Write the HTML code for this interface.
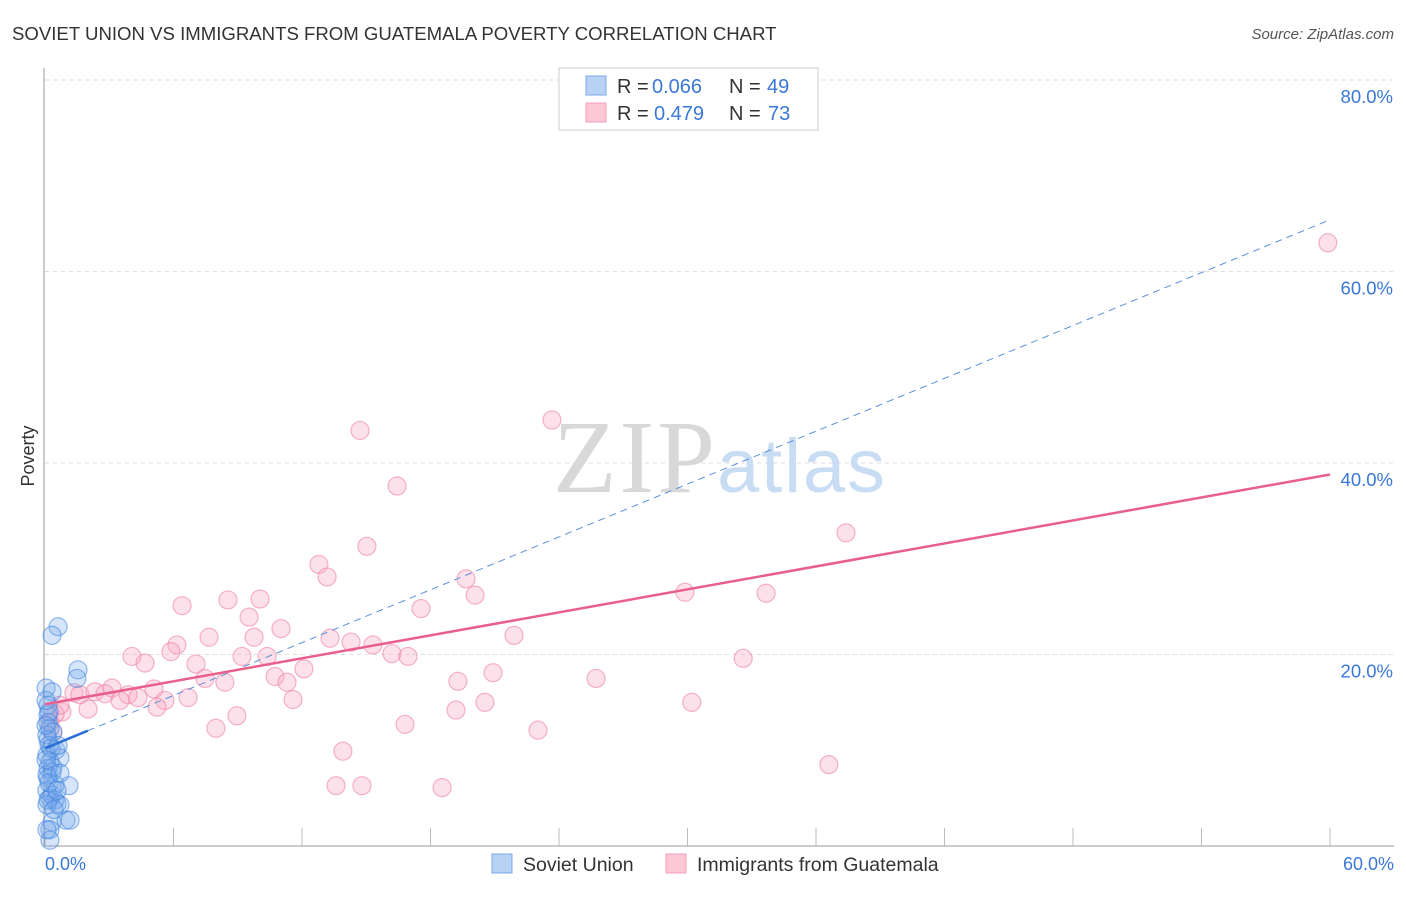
<!DOCTYPE html>
<html><head><meta charset="utf-8"><style>
body{margin:0;background:#fff;font-family:"Liberation Sans",sans-serif}
</style></head><body>
<svg width="1406" height="892" viewBox="0 0 1406 892" xmlns="http://www.w3.org/2000/svg">
<text x="12" y="40" font-size="18.6" fill="#333">SOVIET UNION VS IMMIGRANTS FROM GUATEMALA POVERTY CORRELATION CHART</text>
<text x="1394" y="39" font-size="15" fill="#555" font-style="italic" text-anchor="end">Source: ZipAtlas.com</text>
<g id="grid"></g>
<g><text x="553" y="492" font-family="Liberation Serif,serif" font-size="104" fill="#d8d8d8" textLength="162">ZIP</text><text x="717" y="492" font-size="76" fill="#c8dcf4" textLength="168">atlas</text></g>
<line x1="44" y1="68" x2="44" y2="846" stroke="#999"/>
<line x1="44" y1="846" x2="1394" y2="846" stroke="#999"/>
<g id="ticks"></g>
<g id="pts"></g>
<g id="trend"></g>
<text x="34" y="456" font-size="18" fill="#333" transform="rotate(-90 34 456)" text-anchor="middle">Poverty</text>
<text x="45" y="870" font-size="18" fill="#3a78d8">0.0%</text>
<text x="1394" y="870" font-size="18" fill="#3a78d8" text-anchor="end">60.0%</text>
<g>
<rect x="559" y="68" width="259" height="62" fill="#fff" stroke="#ccc"/>
<rect x="586" y="76" width="20" height="19" fill="#b8d2f4" stroke="#7aa8e8"/>
<rect x="586" y="103" width="20" height="19" fill="#fcc8d8" stroke="#f0a0b8"/>
<text x="617" y="93" font-size="20" fill="#333">R =</text>
<text x="652" y="93" font-size="20" fill="#3a78d8">0.066</text>
<text x="729" y="93" font-size="20" fill="#333">N =</text>
<text x="767" y="93" font-size="20" fill="#3a78d8">49</text>
<text x="617" y="120" font-size="20" fill="#333">R =</text>
<text x="654" y="120" font-size="20" fill="#3a78d8">0.479</text>
<text x="729" y="120" font-size="20" fill="#333">N =</text>
<text x="768" y="120" font-size="20" fill="#3a78d8">73</text>
</g>
<g>
<rect x="492" y="854" width="20" height="19" fill="#b8d2f4" stroke="#7aa8e8"/>
<text x="523" y="871" font-size="19.5" fill="#333">Soviet Union</text>
<rect x="666" y="854" width="20" height="19" fill="#fcc8d8" stroke="#f0a0b8"/>
<text x="697" y="871" font-size="19.5" fill="#333">Immigrants from Guatemala</text>
</g>
</svg>
<script>
const yTicks=[20,40,60,80];
const yTickLabels=["20.0%","40.0%","60.0%","80.0%"];
const xTicks=[0,6,12,18,24,30,36,42,48,54,60];
const pinkX=[59.9,23.67,14.71,16.44,37.4,15.03,12.79,13.17,19.66,20.08,29.88,33.67,6.4,8.54,10.04,9.53,17.56,11.02,7.66,13.31,9.76,14.29,15.31,21.9,6.16,5.88,4.06,4.67,9.2,10.37,16.2,16.95,32.6,7.05,12.09,20.92,10.74,7.47,8.4,11.3,19.28,25.73,5.09,3.13,1.35,1.63,2.33,2.8,3.88,4.34,3.5,5.6,6.68,11.58,20.54,30.2,5.23,2.01,0.79,0.47,8.96,19.19,16.81,7.98,23.02,0.23,0.37,13.91,36.6,13.59,14.8,18.54,0.7];
const pinkY=[63.0,44.5,43.4,37.6,32.7,31.3,29.4,28.1,27.9,26.2,26.5,26.4,25.1,25.7,25.8,23.9,24.8,22.7,21.8,21.7,21.8,21.3,21.0,22.0,21.0,20.3,19.8,19.1,19.8,19.8,20.1,19.8,19.6,19.0,18.5,18.1,17.7,17.5,17.1,17.1,17.2,17.5,16.4,16.5,16.0,15.8,16.1,15.9,15.8,15.5,15.2,15.2,15.5,15.3,15.0,15.0,14.5,14.3,14.0,13.8,13.6,14.2,12.7,12.3,12.1,12.9,11.9,9.9,8.5,6.3,6.3,6.1,14.7];
const blueX=[0.61,0.33,1.54,1.49,0.05,0.33,0.14,0.14,0.14,0.23,0.37,0.14,0.19,0.51,0.7,0.09,0.23,0.14,0.33,0.14,0.47,1.12,0.09,0.33,0.47,0.56,0.23,0.09,0.98,1.17,0.33,0.23,0.23,0.14,0.7,0.19,0.09,0.28,0.37,0.09,0.19,0.05,0.61,0.42,0.05,0.7,0.56,0.09,0.05];
const blueY=[22.9,22.0,18.4,17.5,16.5,16.1,14.7,13.7,12.9,12.3,11.9,11.1,10.5,10.0,9.2,9.5,8.8,8.1,7.7,7.1,6.4,6.3,5.8,5.3,4.8,4.4,5.0,4.3,2.7,2.7,2.5,1.7,0.6,4.8,4.3,14.0,11.6,10.2,8.2,7.4,6.6,12.6,10.5,3.8,9.0,7.6,5.8,1.7,15.2];
const pinkTrend=[14.8,38.8];
const blueTrend=[10.2,65.4];
const blueSolidEnd=2;
const NS="http://www.w3.org/2000/svg";
const X=v=>45+v*(1285/60);
const Y=v=>846-v*(766/80);
function mk(tag,attrs,parent){const e=document.createElementNS(NS,tag);for(const k in attrs)e.setAttribute(k,attrs[k]);parent.appendChild(e);return e;}
const grid=document.getElementById('grid');
yTicks.forEach((t,i)=>{
 const l=mk('line',{x1:45,x2:1394,y1:Y(t),y2:Y(t),stroke:'#ddd','stroke-dasharray':'4,4'},grid);
 
 
 const tx=mk('text',{x:1393,y:Y(t)+23,'font-size':18.5,fill:'#3a78d8','text-anchor':'end'},grid);
 tx.textContent=yTickLabels[i];
 
 
});
const ticks=document.getElementById('ticks');
xTicks.forEach(t=>{const l=mk('line',{x1:X(t),x2:X(t),y1:828,y2:846,stroke:'#bbb'},ticks);
 
 });
const pts=document.getElementById('pts');
pinkX.forEach((v,i)=>{const c=mk('circle',{cx:X(v),cy:Y(pinkY[i]),r:9,fill:'rgba(248,170,195,0.35)',stroke:'rgba(236,130,165,0.6)','stroke-width':1.2},pts);
 
 });
blueX.forEach((v,i)=>{const c=mk('circle',{cx:X(v),cy:Y(blueY[i]),r:9,fill:'rgba(120,170,235,0.3)',stroke:'rgba(60,130,220,0.55)','stroke-width':1.2},pts);
 
 });
const tr=document.getElementById('trend');
const bY=x=>blueTrend[0]+(blueTrend[1]-blueTrend[0])*x/60;
let l1=mk('line',{x1:X(blueSolidEnd),y1:Y(bY(blueSolidEnd)),x2:X(60),y2:Y(bY(60)),stroke:'#5a90dd','stroke-width':1,'stroke-dasharray':'7,5'},tr);


let l2=mk('line',{x1:X(0),y1:Y(bY(0)),x2:X(blueSolidEnd),y2:Y(bY(blueSolidEnd)),stroke:'#2a6fd6','stroke-width':2.5},tr);


let l3=mk('line',{x1:X(0),y1:Y(pinkTrend[0]),x2:X(60),y2:Y(pinkTrend[1]),stroke:'#e8608a','stroke-width':2.5},tr);


</script>
</body></html>
